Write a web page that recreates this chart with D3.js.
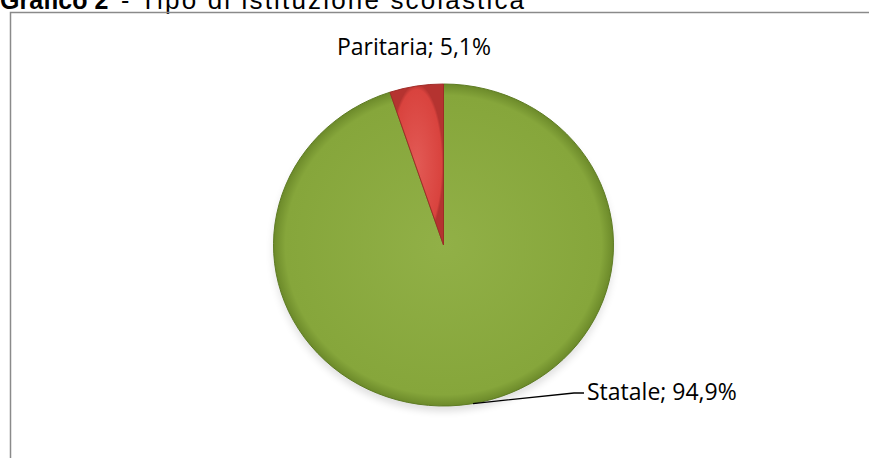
<!DOCTYPE html>
<html>
<head>
<meta charset="utf-8">
<script src="https://cdn.jsdelivr.net/npm/d3@7"></script>
<style>
  body { margin: 0; background: #fff; }
  svg { display: block; }
</style>
</head>
<body>
<div id="chart"></div>
<script>
// data
var categories = ["Statale", "Paritaria"];
var values = [94.9, 5.1];
var labels = ["Statale; 94,9%", "Paritaria; 5,1%"];
var edgeColors = ["#5d7a22", "#9e2a26"];

var width = 869, height = 458;
var svg = d3.select("#chart").append("svg").attr("width", width).attr("height", height);

var defs = svg.append("defs");
var grads = [["g0", "#91b047", "#86a63b", "#6c8a2a"], ["g1", "#e25a55", "#d9433e", "#b53330"]];
grads.forEach(function(g) {
    var rg = defs.append("radialGradient").attr("id", g[0]).attr("cx", "50%").attr("cy", "50%").attr("r", "50%");
    rg.append("stop").attr("offset", "0%").attr("stop-color", g[1]);
    rg.append("stop").attr("offset", "93%").attr("stop-color", g[2]);
    rg.append("stop").attr("offset", "100%").attr("stop-color", g[3]);
});
var blur = defs.append("filter").attr("id", "shadow").attr("x", "-20%").attr("y", "-20%").attr("width", "140%").attr("height", "140%");
blur.append("feGaussianBlur").attr("stdDeviation", 4);

// title (partly cut at the top in the original)
var tfont = "'Liberation Sans', Arial, sans-serif";
svg.append("text").attr("x", 0).attr("y", 9)
    .style("font-family", tfont).style("font-size", "25px").attr("font-weight", "bold").attr("fill", "#000")
    .text("Grafico 2");
svg.append("text").attr("x", 121).attr("y", 9)
    .style("font-family", tfont).style("font-size", "25px").attr("fill", "#000")
    .text("-");
svg.append("text").attr("x", 140).attr("y", 9)
    .style("font-family", tfont).style("font-size", "26px").attr("fill", "#000")
    .attr("textLength", 384).attr("lengthAdjust", "spacing")
    .text("Tipo di istituzione scolastica");

// frame
svg.append("rect").attr("x", 10.5).attr("y", 12.5).attr("width", 900).attr("height", 500)
    .attr("fill", "none").attr("stroke", "#8a8a8a").attr("stroke-width", 1.5);

var cx = 443.5, cy = 245, rx = 170, ry = 161;
var ratio = ry / rx;

var pie = d3.pie().sort(null).value(function(d) { return d; });
var arcs = pie(values);
var arc = d3.arc().innerRadius(0).outerRadius(rx);

var g = svg.append("g").attr("transform", "translate(" + cx + "," + cy + ") scale(1," + ratio + ")");

// soft shadow under the pie
g.append("ellipse").attr("cx", 0).attr("cy", 6).attr("rx", rx).attr("ry", rx)
    .attr("fill", "#000").attr("opacity", 0.12).attr("filter", "url(#shadow)");

g.selectAll("path.slice").data(arcs).enter().append("path")
    .attr("class", "slice")
    .attr("d", arc)
    .attr("fill", function(d, i) { return "url(#g" + i + ")"; })
    .attr("stroke", function(d, i) { return edgeColors[i]; })
    .attr("stroke-width", 1);

// labels
var font = "'Open Sans', 'Noto Sans', sans-serif";
svg.append("text").attr("x", 414).attr("y", 55).attr("text-anchor", "middle")
    .style("font-family", font).style("font-size", "23px").attr("fill", "#000")
    .text(labels[1]);

svg.append("text").attr("x", 587).attr("y", 400)
    .style("font-family", font).style("font-size", "23px").attr("fill", "#000")
    .text(labels[0]);

// leader line for Statale
var ang = 170 * Math.PI / 180;
var px = cx + rx * Math.sin(ang), py = cy - ry * Math.cos(ang);
svg.append("path").attr("d", "M" + px + "," + py + "L574,393L584,393")
    .attr("fill", "none").attr("stroke", "#000").attr("stroke-width", 1.3);
</script>
</body>
</html>
